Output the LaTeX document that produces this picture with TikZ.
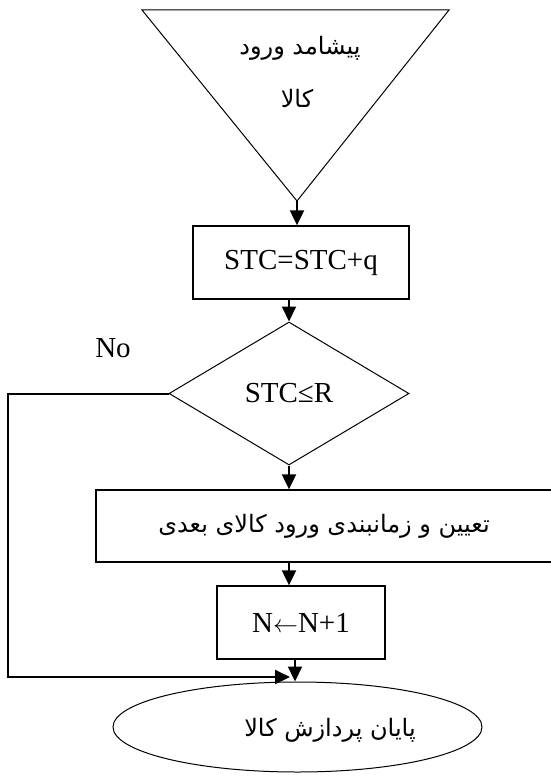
\documentclass[tikz,border=0pt]{standalone}
\usepackage{fontspec}
\setmainfont{Liberation Serif}
\newfontfamily\farsi[Script=Arabic]{DejaVu Sans}
\TeXXeTstate=1
\usetikzlibrary{shapes.geometric,arrows.meta}

\begin{document}
\begin{tikzpicture}[x=1pt,y=-1pt,
    box/.style={draw,line width=1.3pt,minimum height=73pt,inner sep=0pt},
    arr/.style={line width=2pt,-{Triangle[length=15pt,width=14pt]}},
    txt/.style={font=\fontsize{29}{34}\selectfont},
    fa/.style={font=\farsi\fontsize{24}{28}\selectfont}]
    \clip (0,0) rectangle (551,776);
    % arrival event
    \draw [line width=1pt] (142,10) -- (449,10) -- (297,201) -- cycle;
    \coordinate (apex) at (297,201);
    \node [fa] (arr1) at (300,48) {\beginR پیشامد ورود\endR};
    \node [fa] (arr2) at (297,98) {\beginR کالا\endR};
    % stock update and test
    \node [box,txt,minimum width=216pt] (stock) at (301,262.5) {STC=STC+q};
    \node [draw,diamond,line width=1pt,inner sep=0pt,minimum width=240pt,
           minimum height=143pt,txt] (test) at (289,393.5) {STC≤R};
    \node [txt] (no) at (113,348) {No};
    % next arrival and counter
    \node [box,fa,minimum width=456pt,minimum height=72pt] (next) at (324,526)
        {\beginR تعیین و زمانبندی ورود کالای بعدی\endR};
    \node [box,txt,minimum width=168pt] (count) at (301,622.5) {N$\leftarrow$N+1};
    % end
    \node [draw,ellipse,line width=1pt,minimum width=369pt,minimum height=90pt] (stop) at (297.5,727) {};
    \node [fa] (stoptxt) at (330,730) {\beginR پایان پردازش کالا\endR};
    \coordinate (left) at (8,677);
    \coordinate (join) at (290,677);
    % connectors
    \draw [arr] (apex) -- (apex |- stock.north);
    \draw [arr] (test.north |- stock.south) -- (test.north);
    \draw [arr] (test.south) -- (test.south |- next.north);
    \draw [arr] (test.south |- next.south) -- (test.south |- count.north);
    \draw [arr] ([xshift=-6pt]count.south) -- ([xshift=-6pt]count.south |- stop.north);
    \draw [arr] (test.west) -| (left) -- (join);
\end{tikzpicture}
\end{document}
